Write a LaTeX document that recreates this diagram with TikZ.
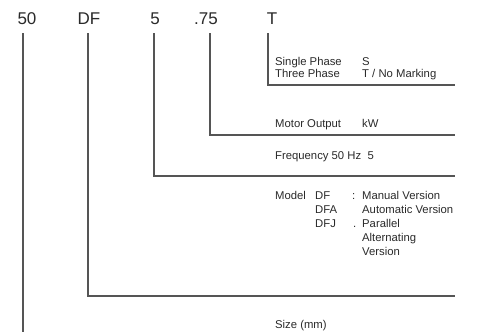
\documentclass[tikz,border=0pt]{standalone}
\usepackage{fontspec}
\setmainfont{Liberation Sans}
\definecolor{ink}{HTML}{2A2A2A}
\definecolor{rule}{HTML}{555555}
\begin{document}
\begin{tikzpicture}[x=1pt,y=-1pt,
  code/.style={inner sep=0pt,anchor=base,text=ink,font=\fontsize{17}{17}\selectfont},
  lbl/.style={inner sep=0pt,anchor=base west,text=ink,font=\fontsize{11.3}{13}\selectfont},
  leader/.style={draw=rule,line width=1.1pt}]
\useasboundingbox[fill=white] (0,0) rectangle (480,332);
% top code characters
\node[code] (n50) at (27,24) {50};
\node[code] (nDF) at (89,24) {DF};
\node[code] (n5)  at (155,24) {5};
\node[code] (n75) at (206,24) {.75};
\node[code] (nT)  at (272,24) {T};
% line corners / ends
\coordinate (s50) at (23,33);  \coordinate (e50) at (23,332);
\coordinate (sDF) at (88,33);  \coordinate (eDF) at (455,296);
\coordinate (s5)  at (154,33); \coordinate (e5)  at (455,176);
\coordinate (s75) at (210,33); \coordinate (e75) at (455,135);
\coordinate (sT)  at (268,33); \coordinate (eT)  at (455,85);
\draw[leader] (s50) -- (e50);
\draw[leader] (sDF) |- (eDF);
\draw[leader] (s5)  |- (e5);
\draw[leader] (s75) |- (e75);
\draw[leader] (sT)  |- (eT);
% phase
\node[lbl] (sp)  at (275,65) {Single Phase};
\node[lbl] (spv) at (362,65) {S};
\node[lbl] (tp)  at (275,77) {Three Phase};
\node[lbl] (tpv) at (362,77) {T / No Marking};
% motor output
\node[lbl] (mo)  at (275,127) {Motor Output};
\node[lbl] (mov) at (362,127) {kW};
% frequency
\node[lbl] (fq)  at (275,159) {Frequency 50 Hz\ \ 5};
% model
\node[lbl] (md)   at (275,199) {Model};
\node[lbl] (mdf)  at (315,199) {DF};
\node[lbl] (mc1)  at (352,199) {:};
\node[lbl] (mdfv) at (362,199) {Manual Version};
\node[lbl] (mda)  at (315,213) {DFA};
\node[lbl] (mdav) at (362,213) {Automatic Version};
\node[lbl] (mdj)  at (315,227) {DFJ};
\node[lbl] (mc3)  at (353,227) {.};
\node[lbl] (mdjv) at (362,227) {Parallel};
\node[lbl] (mdj2) at (362,241) {Alternating};
\node[lbl] (mdj3) at (362,255) {Version};
% size
\node[lbl] (sz) at (275,328) {Size (mm)};
\end{tikzpicture}
\end{document}
